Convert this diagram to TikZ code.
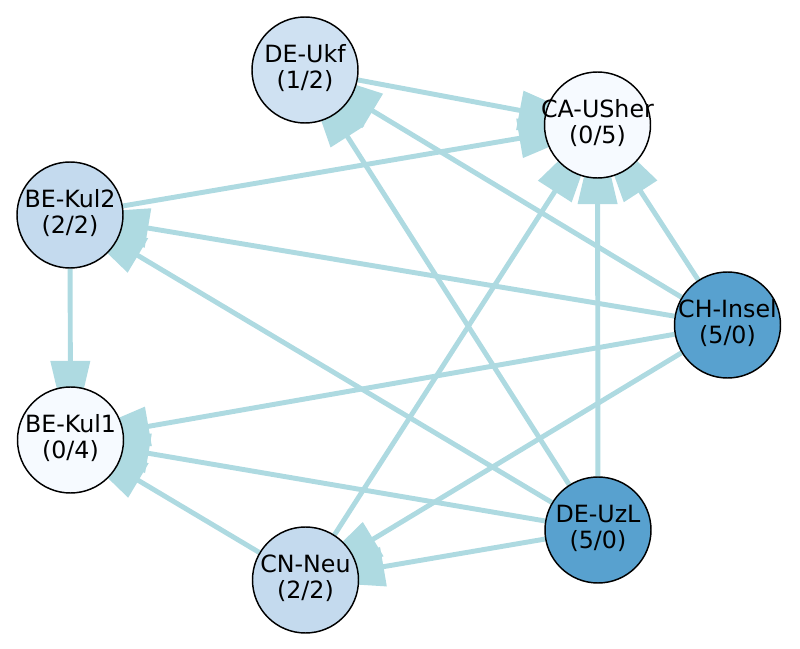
\documentclass[tikz,border=0pt]{standalone}
\usepackage{fontspec}
\setmainfont{DejaVu Sans}
\usetikzlibrary{arrows.meta,backgrounds}

\definecolor{edgeblue}{RGB}{174,218,225}
\definecolor{paleblue}{RGB}{246,250,255}
\definecolor{softblue}{RGB}{207,225,242}
\definecolor{midblue}{RGB}{196,218,238}
\definecolor{deepblue}{RGB}{88,161,207}

\newcommand{\sitetext}[2]{\makebox[0pt]{\begin{tabular}{@{}c@{}}#1\\(#2)\end{tabular}}}

\begin{document}
\begin{tikzpicture}[
 x=0.75pt,y=-0.75pt,
 site/.style={
  circle,
  draw=black,
  line width=1.1pt,
  minimum size=79.5pt,
  inner sep=0pt,
  font=\fontsize{17.8}{19.5}\selectfont
 },
 link/.style={
  -{Triangle[length=64pt,width=29pt]},
  draw=edgeblue,
  fill=edgeblue,
  line width=3.7pt,
  shorten >=-45pt
 }
]
 \useasboundingbox (0,0) rectangle (800,649);

 \node[site,fill=softblue] (dukf) at (305,70)    {\sitetext{DE-Ukf}{1/2}};
 \node[site,fill=paleblue] (cau)  at (597.5,125) {\sitetext{CA-USher}{0/5}};
 \node[site,fill=midblue]  (bek2) at (70,215)    {\sitetext{BE-Kul2}{2/2}};
 \node[site,fill=deepblue] (chi)  at (727.5,325) {\sitetext{CH-Insel}{5/0}};
 \node[site,fill=paleblue] (bek1) at (70.5,440)  {\sitetext{BE-Kul1}{0/4}};
 \node[site,fill=deepblue] (duzl) at (598,530)   {\sitetext{DE-UzL}{5/0}};
 \node[site,fill=midblue]  (cnn)  at (305.5,580) {\sitetext{CN-Neu}{2/2}};

 \begin{scope}[on background layer]
  \draw[link] (dukf) -- (cau);
  \draw[link] (bek2) -- (cau);
  \draw[link] (cnn)  -- (cau);
  \draw[link] (duzl) -- (cau);
  \draw[link] (chi)  -- (cau);
  \draw[link] (chi)  -- (dukf);
  \draw[link] (duzl) -- (dukf);
  \draw[link] (chi)  -- (bek2);
  \draw[link] (duzl) -- (bek2);
  \draw[link] (bek2) -- (bek1);
  \draw[link] (chi)  -- (bek1);
  \draw[link] (duzl) -- (bek1);
  \draw[link] (cnn)  -- (bek1);
  \draw[link] (chi)  -- (cnn);
  \draw[link] (duzl) -- (cnn);
 \end{scope}
\end{tikzpicture}
\end{document}
